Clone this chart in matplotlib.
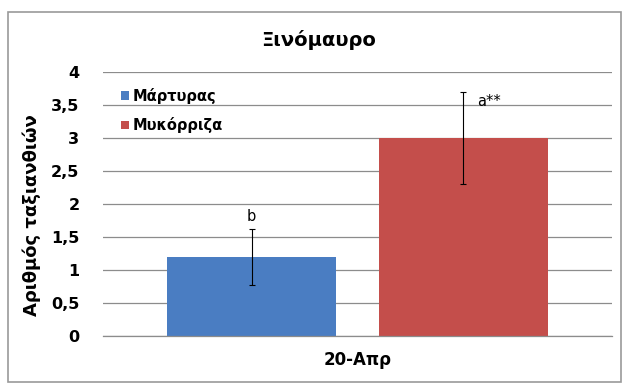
import matplotlib
matplotlib.use("Agg")
from matplotlib import pyplot as plt
from matplotlib import patches as mpatches

plt.rcParams["font.family"] = ["DejaVu Sans"]

category = "20-Απρ"
series = ["Μάρτυρας", "Μυκόρριζα"]
means = [1.2, 3.0]
errors = [0.42, 0.70]
letters = ["b", "a**"]
colors = ["#4A7DC2", "#C44E4B"]

fig = plt.figure(figsize=(6.29, 3.83), dpi=100)
ax = fig.add_axes([0.1638, 0.1227, 0.809, 0.6893])

# chart frame
fig.patches.append(mpatches.Rectangle((8 / 629, 1 - 382 / 383), 613 / 629, 370 / 383,
                                      transform=fig.transFigure, fill=False,
                                      edgecolor="#9a9a9a", linewidth=1.2))

bar_w = 0.332
offsets = [-0.208, 0.208]
for i in range(len(series)):
    ax.bar(offsets[i], means[i], width=bar_w, color=colors[i], label=series[i], zorder=2)
    ax.errorbar(offsets[i], means[i], yerr=errors[i], fmt="none", ecolor="black",
                elinewidth=0.8, capsize=2.5, capthick=0.8, zorder=3)

ax.text(offsets[0], means[0] + errors[0] + 0.07, letters[0], ha="center", va="bottom",
        fontsize=10.5)
ax.text(offsets[1] + 0.028, means[1] + errors[1] - 0.14, letters[1], ha="left", va="center",
        fontsize=10.5)

ax.set_xlim(-0.5, 0.5)
ax.set_ylim(0, 4)
ax.set_yticks([0, 0.5, 1, 1.5, 2, 2.5, 3, 3.5, 4])
ax.set_yticklabels(["0", "0,5", "1", "1,5", "2", "2,5", "3", "3,5", "4"],
                   fontsize=11.5, fontweight="bold")
ax.set_xticks([0])
ax.set_xticklabels([category], fontsize=12, fontweight="bold")
ax.tick_params(axis="y", length=0, pad=17)
ax.tick_params(axis="x", length=0, pad=11)
ax.yaxis.grid(True, color="#8c8c8c", linewidth=0.9)
ax.axhline(0, color="#8c8c8c", linewidth=0.9, clip_on=False, zorder=3)
ax.set_axisbelow(True)
for s in ax.spines.values():
    s.set_visible(False)

ax.set_ylabel("Αριθμός ταξιανθιών", fontsize=13, fontweight="bold")
ax.yaxis.set_label_coords(-0.122, 0.46)
fig.text(0.506, 0.895, "Ξινόμαυρο", ha="center", va="center", fontsize=14,
         fontweight="bold")

leg = ax.legend(loc="upper left", bbox_to_anchor=(0.01, 0.99), frameon=False,
                handlelength=0.5, handleheight=0.5, handletextpad=0.3,
                labelspacing=0.9, prop={"size": 10.5, "weight": "bold"})

fig.savefig("out.png", dpi=100, facecolor="white")
